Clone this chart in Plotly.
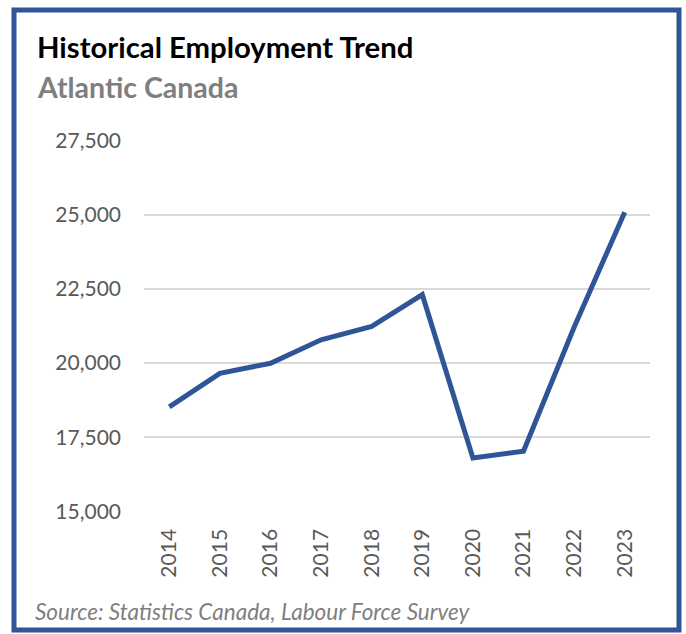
import plotly.graph_objects as go

years = ["2014", "2015", "2016", "2017", "2018", "2019", "2020", "2021", "2022", "2023"]
employment = [18520, 19650, 19990, 20780, 21230, 22300, 16800, 17030, 21200, 25080]
y_ticks = [15000, 17500, 20000, 22500, 25000, 27500]
y_tick_labels = ["15,000", "17,500", "20,000", "22,500", "25,000", "27,500"]

W, H = 686, 634
def px(x):
    return x / W
def py(y):
    return 1 - y / H

fig = go.Figure()
fig.add_trace(go.Scatter(
    x=years, y=employment, mode="lines",
    line=dict(color="#2F5597", width=5),
    hoverinfo="x+y", showlegend=False,
))

font_family = "Lato, Open Sans, sans-serif"
fig.update_layout(
    width=W, height=H,
    autosize=False,
    margin=dict(l=0, r=0, t=0, b=0, pad=0, autoexpand=False),
    paper_bgcolor="white", plot_bgcolor="white",
    font=dict(family=font_family, color="#595959"),
    xaxis=dict(
        domain=[px(144), px(650)],
        type="category",
        range=[-0.5, 9.5],
        automargin=False,
        tickangle=-90,
        tickfont=dict(size=21, color="#595959"),
        showgrid=False, zeroline=False, showline=False,
        ticks="", ticklabelstandoff=12,
    ),
    yaxis=dict(
        domain=[py(511.7), py(140)],
        range=[14990, 27510],
        automargin=False,
        tickvals=y_ticks, ticktext=y_tick_labels,
        tickfont=dict(size=21, color="#595959"),
        showgrid=True, gridcolor="#D9D9D9", gridwidth=1.5,
        zeroline=False, showline=False,
        ticks="", ticklabelstandoff=22,
    ),
    shapes=[dict(
        type="rect", xref="paper", yref="paper",
        x0=px(14), x1=px(679), y0=py(10), y1=py(630),
        line=dict(color="#2F5597", width=5), fillcolor="rgba(0,0,0,0)",
    )],
    annotations=[
        dict(text="<b>Historical Employment Trend</b>", xref="paper", yref="paper",
             x=px(35), y=py(47), xanchor="left", yanchor="middle", showarrow=False,
             font=dict(size=29.3, color="#000000", family=font_family)),
        dict(text="<b>Atlantic Canada</b>", xref="paper", yref="paper",
             x=px(35), y=py(87), xanchor="left", yanchor="middle", showarrow=False,
             font=dict(size=28.5, color="#7F7F7F", family=font_family)),
        dict(text="<i>Source: Statistics Canada, Labour Force Survey</i>", xref="paper", yref="paper",
             x=px(33), y=py(611), xanchor="left", yanchor="middle", showarrow=False,
             font=dict(size=22.5, color="#7F7F7F", family=font_family)),
    ],
)

fig.write_html(
    "out.html",
    config={"displayModeBar": False},
    post_script="document.body.style.margin='0';document.body.style.overflow='hidden';",
)
